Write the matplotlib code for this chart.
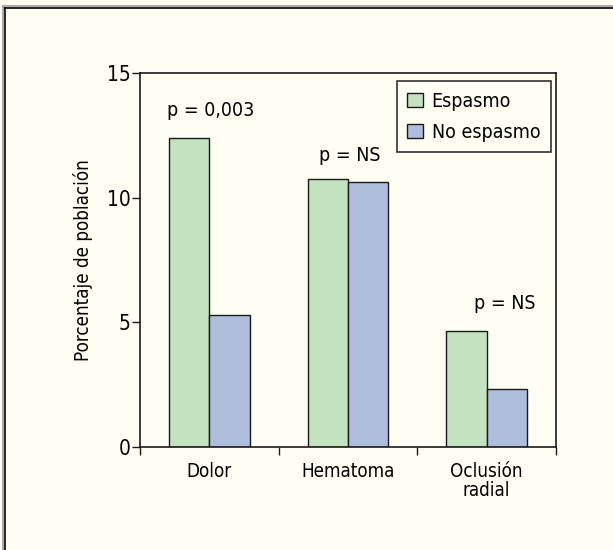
import matplotlib
matplotlib.use("Agg")
import matplotlib.pyplot as plt
from matplotlib.lines import Line2D
import numpy as np

categories = ["Dolor", "Hematoma", "Oclusión\nradial"]
espasmo = [12.4, 10.75, 4.67]
no_espasmo = [5.3, 10.64, 2.33]
p_labels = ["p = 0,003", "p = NS", "p = NS"]
p_label_y = [13.5, 11.7, 5.75]
series_names = ["Espasmo", "No espasmo"]
yticks = [0, 5, 10, 15]

plt.rcParams['font.family'] = ['DejaVu Sans']
plt.rcParams['font.stretch'] = 'condensed'

bg = '#fffef2'
green = '#c2e2c0'
blue = '#adbddb'

fig = plt.figure(figsize=(6.13, 5.5), dpi=100, facecolor=bg)
ax = fig.add_axes([140/613, 1-447/550, 416/613, 374/550])
ax.set_facecolor(bg)

x = np.arange(len(categories))
w = 0.29
ax.bar(x - w/2, espasmo, w, color=green, edgecolor='#1a1a1a', linewidth=1.0, label=series_names[0])
ax.bar(x + w/2, no_espasmo, w, color=blue, edgecolor='#1a1a1a', linewidth=1.0, label=series_names[1])

ax.set_xlim(-0.5, 2.5)
ax.set_ylim(0, 15)
ax.set_yticks(yticks)
ax.set_yticklabels([str(v) for v in yticks], fontsize=15)
ax.set_xticks([-0.5, 0.5, 1.5, 2.5])
ax.set_xticklabels([])
ax.set_xticks(x, minor=True)
ax.set_xticklabels(categories, minor=True, fontsize=13.5, linespacing=1.0)
ax.tick_params(axis='x', which='minor', length=0, pad=11)
ax.tick_params(axis='both', which='major', direction='out', length=6, width=1.0, color='#1a1a1a')
ax.tick_params(axis='y', pad=1)
for s in ax.spines.values():
    s.set_linewidth(1.2)
    s.set_color('#1a1a1a')
ax.set_ylabel("Porcentaje de población", fontsize=13.5, labelpad=10)

for xi, t, yy in zip(x, p_labels, p_label_y):
    ax.text(xi + (0.13 if xi == 2 else 0.01), yy, t, ha='center', va='center', fontsize=14)

leg = ax.legend(loc='upper right', bbox_to_anchor=(551/613, 1-81/550), bbox_transform=fig.transFigure,
                fontsize=14, frameon=True, fancybox=False, edgecolor='#333333', facecolor=bg,
                handlelength=0.8, handleheight=0.8, handletextpad=0.45, borderpad=0.55,
                labelspacing=0.62, borderaxespad=0)
leg.get_frame().set_linewidth(1.2)
leg.get_frame().set_alpha(1)

# outer border (top and left visible)
fig.add_artist(Line2D([3/613, 3/613], [0, 1-6/550], transform=fig.transFigure, color='#aaaaaa', lw=1.5))
fig.add_artist(Line2D([3/613, 1], [1-6/550, 1-6/550], transform=fig.transFigure, color='#aaaaaa', lw=1.5))
fig.add_artist(Line2D([5/613, 5/613], [0, 1-8/550], transform=fig.transFigure, color='black', lw=1.2))
fig.add_artist(Line2D([5/613, 1], [1-8/550, 1-8/550], transform=fig.transFigure, color='black', lw=1.2))

fig.savefig("out.png", dpi=100, facecolor=bg)
